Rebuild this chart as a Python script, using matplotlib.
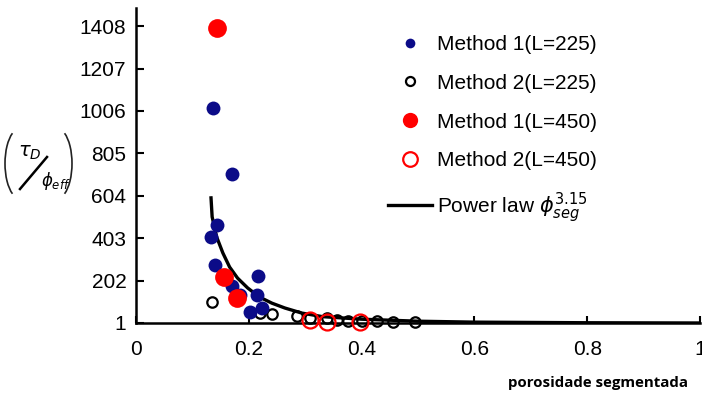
import matplotlib.pyplot as plt
from matplotlib.lines import Line2D
from matplotlib.patches import Arc

plt.rcParams['font.family'] = ['Liberation Sans', 'DejaVu Sans']
plt.rcParams['mathtext.fontset'] = 'dejavusans'

# Method 1 (L=225) - filled navy
m1_225_x = [0.136, 0.170, 0.143, 0.133, 0.140, 0.216, 0.170, 0.214, 0.202, 0.223, 0.184]
m1_225_y = [1020, 707, 466, 409, 274, 224, 176, 134, 53, 72, 135]

# Method 2 (L=225) - open black
m2_225_x = [0.135, 0.219, 0.242, 0.285, 0.308, 0.338, 0.356, 0.375, 0.400, 0.428, 0.455, 0.494]
m2_225_y = [100, 48, 44, 34, 25, 25, 15, 10, 10, 10, 6, 6]

# Method 1 (L=450) - filled red
m1_450_x = [0.143, 0.156, 0.179]
m1_450_y = [1400, 219, 120]

# Method 2 (L=450) - open red
m2_450_x = [0.308, 0.338, 0.398]
m2_450_y = [15, 6, 6]

# power law curve
fit_x = [0.133, 0.135, 0.143, 0.154, 0.166, 0.180, 0.198, 0.219, 0.241, 0.264,
         0.294, 0.331, 0.40, 0.50, 0.60, 0.80, 1.0]
fit_y = [594, 504, 409, 333, 266, 214, 167, 124, 95, 72, 48, 31, 19, 9.5, 5.1, 2.2, 1.07]

y_ticks = [1, 202, 403, 604, 805, 1006, 1207, 1408]
x_ticks = [0, 0.2, 0.4, 0.6, 0.8, 1.0]
x_labels = ['0', '0.2', '0.4', '0.6', '0.8', '1']

navy = '#0b0b88'
red = '#ff0000'

fig = plt.figure(figsize=(7.02, 3.93), dpi=100)
ax = fig.add_axes([136 / 702, 1 - 323 / 393, 564 / 702, 315 / 393])

ax.plot(fit_x, fit_y, color='black', lw=2.4, zorder=3)
ax.plot(m2_225_x, m2_225_y, 'o', ms=7.5, mfc='white', mec='black', mew=1.6, zorder=2, clip_on=False)
ax.plot(m1_225_x, m1_225_y, 'o', ms=10, color=navy, mew=0, zorder=4, clip_on=False)
ax.plot(m1_450_x, m1_450_y, 'o', ms=13.5, color=red, mew=0, zorder=5, clip_on=False)
ax.plot(m2_450_x, m2_450_y, 'o', ms=11.5, mfc='none', mec=red, mew=1.6, zorder=5, clip_on=False)

ax.set_xlim(0, 1)
ax.set_ylim(1, 1494)
ax.set_xticks(x_ticks)
ax.set_xticklabels(x_labels)
ax.set_yticks(y_ticks)
ax.tick_params(axis='both', direction='in', labelsize=15, width=1.5)
ax.tick_params(axis='x', length=5, pad=12)
ax.tick_params(axis='y', length=6, pad=7)
for s in ['top', 'right']:
    ax.spines[s].set_visible(False)
for s in ['left', 'bottom']:
    ax.spines[s].set_linewidth(1.8)

handles = [
    Line2D([], [], ls='none', marker='o', ms=7, color=navy, mew=0),
    Line2D([], [], ls='none', marker='o', ms=6.5, mfc='white', mec='black', mew=1.6),
    Line2D([], [], ls='none', marker='o', ms=11, color=red, mew=0),
    Line2D([], [], ls='none', marker='o', ms=10.5, mfc='none', mec=red, mew=1.6),
    Line2D([], [], color='black', lw=2.4),
]
labels = ['Method 1(L=225)', 'Method 2(L=225)', 'Method 1(L=450)', 'Method 2(L=450)',
          r'Power law $\phi_{seg}^{3.15}$']
fig.legend(handles, labels, loc='upper left', bbox_to_anchor=(388 / 702, 1 - 35 / 393),
           frameon=False, fontsize=15, handlelength=2.1, handletextpad=0.25,
           labelspacing=0.95, borderpad=0, borderaxespad=0)

# y label (tau_D / phi_eff) drawn in a pixel-coordinate overlay
lab = fig.add_axes([0, 0, 1, 1], zorder=-1)
lab.set_xlim(0, 702)
lab.set_ylim(393, 0)
lab.axis('off')
lab.add_patch(Arc((20, 163.5), 30, 70, theta1=104, theta2=256, lw=1.2, color='#222222'))
lab.add_patch(Arc((57, 163.5), 30, 70, theta1=-76, theta2=76, lw=1.2, color='#222222'))
lab.plot([20, 47], [189, 157], color='black', lw=1.8)
lab.text(30, 153, r'$\tau_D$', fontsize=14, ha='center', va='center')
lab.text(56, 181, r'$\phi_{eff}$', fontsize=12, ha='center', va='center')

fig.text(598 / 702, 1 - 383 / 393, 'porosidade segmentada', fontsize=10.8, fontweight='bold',
         family='Open Sans', ha='center', va='center')

fig.savefig('out.png', dpi=100)
